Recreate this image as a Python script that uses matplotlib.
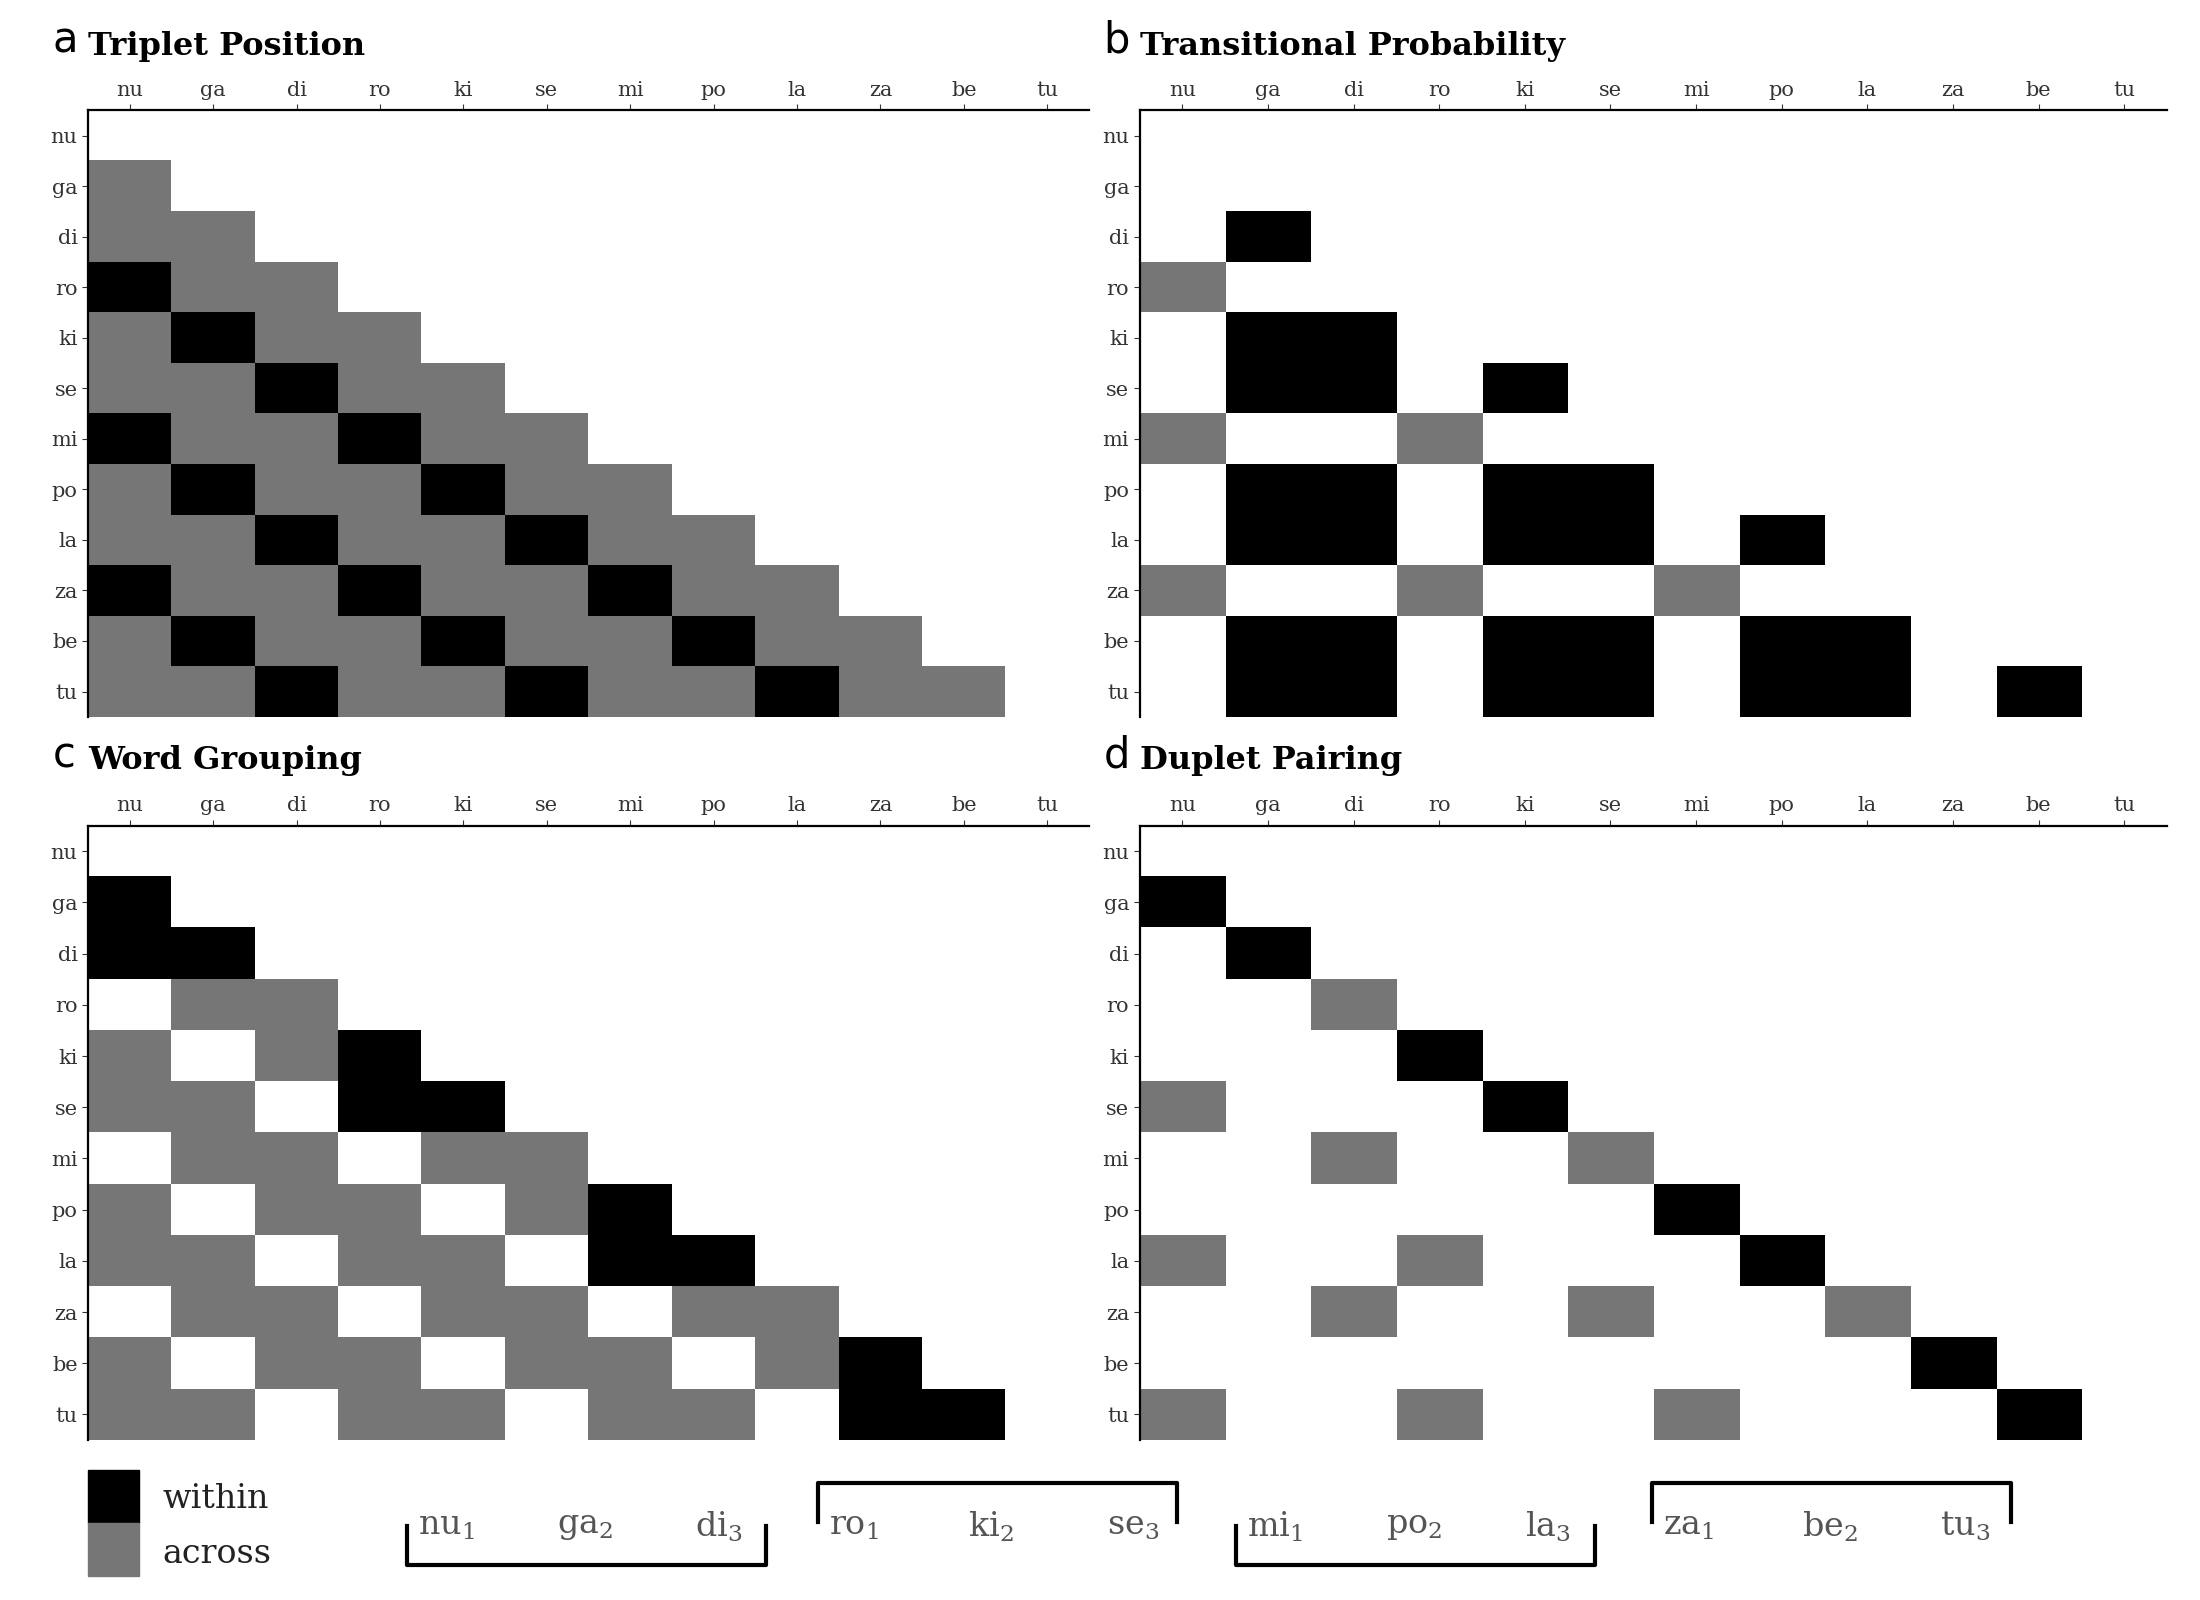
import numpy as np
import matplotlib
matplotlib.use("Agg")
import matplotlib.pyplot as plt
from matplotlib.colors import ListedColormap

plt.rcParams['font.family'] = ['DejaVu Serif']
plt.rcParams['mathtext.fontset'] = 'dejavuserif'

syll = ['nu', 'ga', 'di', 'ro', 'ki', 'se', 'mi', 'po', 'la', 'za', 'be', 'tu']
n = len(syll)

# 1 = within (black), 0 = across (gray), missing = empty
# (row, col) pairs given by syllable name
tp_within = {'di': ['ga'], 'ki': ['ga', 'di'], 'se': ['ga', 'di', 'ki'],
             'po': ['ga', 'di', 'ki', 'se'], 'la': ['ga', 'di', 'ki', 'se', 'po'],
             'be': ['ga', 'di', 'ki', 'se', 'po', 'la'],
             'tu': ['ga', 'di', 'ki', 'se', 'po', 'la', 'be']}
tp_across = {'ro': ['nu'], 'mi': ['nu', 'ro'], 'za': ['nu', 'ro', 'mi']}

dp_within = {'ga': ['nu'], 'di': ['ga'], 'ki': ['ro'], 'se': ['ki'], 'po': ['mi'],
             'la': ['po'], 'be': ['za'], 'tu': ['be']}
dp_across = {'ro': ['di'], 'se': ['nu'], 'mi': ['di', 'se'], 'la': ['nu', 'ro'],
             'za': ['di', 'se', 'la'], 'tu': ['nu', 'ro', 'mi']}


def from_dicts(within, across):
    m = np.full((n, n), np.nan)
    for r, cols in within.items():
        for c in cols:
            m[syll.index(r), syll.index(c)] = 1
    for r, cols in across.items():
        for c in cols:
            m[syll.index(r), syll.index(c)] = 0
    return m


def triplet_position():
    m = np.full((n, n), np.nan)
    for i in range(n):
        for j in range(i):
            m[i, j] = 1 if i % 3 == j % 3 else 0
    return m


def word_grouping():
    m = np.full((n, n), np.nan)
    for i in range(n):
        for j in range(i):
            if i // 3 == j // 3:
                m[i, j] = 1
            elif i % 3 != j % 3:
                m[i, j] = 0
    return m


panels = [
    ('a', 'Triplet Position', triplet_position(), [0.040, 0.552, 0.455, 0.379]),
    ('b', 'Transitional Probability', from_dicts(tp_within, tp_across), [0.518, 0.552, 0.467, 0.379]),
    ('c', 'Word Grouping', word_grouping(), [0.040, 0.100, 0.455, 0.384]),
    ('d', 'Duplet Pairing', from_dicts(dp_within, dp_across), [0.518, 0.100, 0.467, 0.384]),
]

cmap = ListedColormap(['#767676', '#000000'])
fig = plt.figure(figsize=(22, 16), dpi=100)

for letter, title, mat, pos in panels:
    ax = fig.add_axes(pos)
    ax.imshow(np.ma.masked_invalid(mat), cmap=cmap, vmin=0, vmax=1,
              aspect='auto', interpolation='nearest')
    ax.set_xlim(-0.5, n - 0.5)
    ax.set_ylim(n - 0.5, -0.5)
    ax.set_xticks(range(n))
    ax.set_yticks(range(n))
    ax.set_xticklabels(syll)
    ax.set_yticklabels(syll)
    ax.xaxis.tick_top()
    ax.tick_params(labelsize=15, colors='#333333', length=4)
    for s in ['right', 'bottom']:
        ax.spines[s].set_visible(False)
    for s in ['top', 'left']:
        ax.spines[s].set_linewidth(1.6)
    ax.text(-0.035, 1.08, letter, transform=ax.transAxes, fontsize=30,
            family='DejaVu Sans', va='bottom', ha='left')
    ax.text(0.0, 1.08, title, transform=ax.transAxes, fontsize=23,
            fontweight='bold', va='bottom', ha='left')

# legend
fig.patches.append(plt.Rectangle((0.040, 0.048), 0.023, 0.033, color='black',
                                 transform=fig.transFigure))
fig.patches.append(plt.Rectangle((0.040, 0.015), 0.023, 0.033, color='#767676',
                                 transform=fig.transFigure))
fig.text(0.074, 0.063, 'within', fontsize=24, va='center', color='#222222')
fig.text(0.074, 0.029, 'across', fontsize=24, va='center', color='#222222')

# word brackets
groups = [syll[k:k + 3] for k in range(0, n, 3)]
starts = [0.185, 0.372, 0.562, 0.751]
bw = 0.163
for g, (words, x0) in enumerate(zip(groups, starts)):
    up = g % 2 == 0
    yb = 0.022 if up else 0.073
    ytip = 0.046 if up else 0.049
    fig.add_artist(plt.Line2D([x0, x0, x0 + bw, x0 + bw], [ytip, yb, yb, ytip],
                              color='black', lw=3, transform=fig.transFigure))
    for k, w in enumerate(words):
        fig.text(x0 + 0.005 + k * 0.063, 0.046, f'{w}$_{k + 1}$', fontsize=24,
                 color='#555555', va='center', ha='left')

fig.savefig('out.png', dpi=100, facecolor='white')
